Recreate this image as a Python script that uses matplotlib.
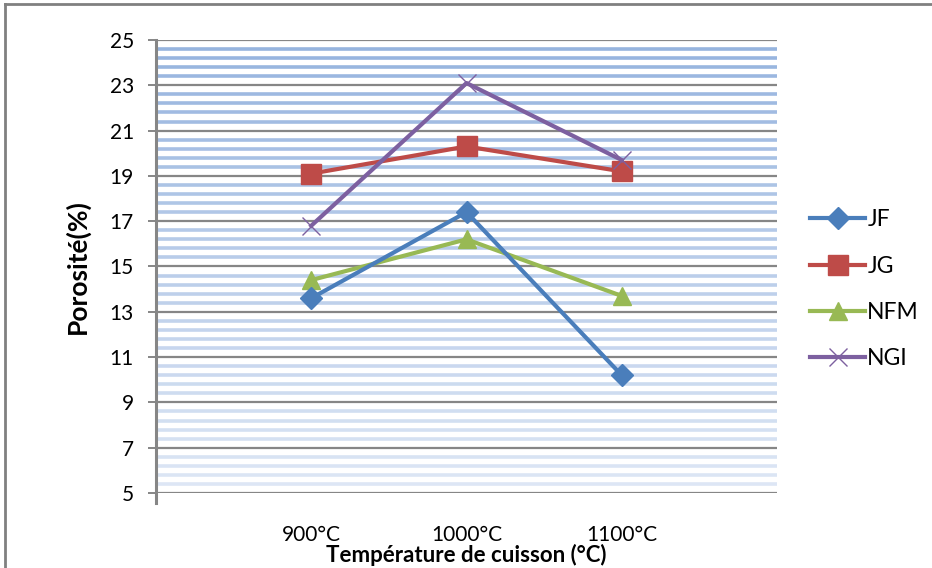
import numpy as np
import matplotlib
matplotlib.use("Agg")
import matplotlib.pyplot as plt
from matplotlib.lines import Line2D

plt.rcParams['font.family'] = ['Lato', 'DejaVu Sans']

# data
temps = ['900°C', '1000°C', '1100°C']
jf = [13.6, 17.4, 10.2]
jg = [19.1, 20.3, 19.2]
nfm = [14.4, 16.2, 13.7]
ngi = [16.8, 23.1, 19.7]
y_ticks = [5, 7, 9, 11, 13, 15, 17, 19, 21, 23, 25]

fig = plt.figure(figsize=(9.32, 5.68), dpi=100)
ax = fig.add_axes([156 / 932, 1 - 493 / 568, (777 - 156) / 932, (493 - 40) / 568])

ax.set_xlim(0, 4)
ax.set_ylim(5, 25)

# striped background: minor lines with a blue fade from top to bottom
top_c = np.array([149, 179, 222]) / 255
bot_c = np.array([222, 231, 245]) / 255
for yv in np.arange(5, 25, 0.4):
    if abs(yv - round(yv)) < 1e-6 and int(round(yv)) % 2 == 1:
        continue
    t = (yv - 5) / 20
    c = bot_c + (top_c - bot_c) * t
    ax.axhline(yv, color=c, lw=2.6, zorder=0)
for yv in y_ticks:
    ax.axhline(yv, color='#868686', lw=1.6, zorder=1)

x = np.arange(1, len(temps) + 1)
ax.plot(x, jf, color='#4A7EBB', lw=3, marker='D', ms=11, zorder=5, label='JF')
ax.plot(x, jg, color='#BE4B48', lw=3, marker='s', ms=14, zorder=4, label='JG')
ax.plot(x, nfm, color='#98B954', lw=3, marker='^', ms=13, zorder=3, label='NFM')
ax.plot(x, ngi, color='#7D60A0', lw=3, marker='x', ms=13, mew=1, zorder=6, label='NGI')

for s in ax.spines.values():
    s.set_visible(False)
ax.plot([0, 0], [4.55, 25], color='#868686', lw=2.2, clip_on=False, zorder=7)

ax.set_yticks(y_ticks)
ax.set_yticklabels([str(v) for v in y_ticks], fontsize=15)
ax.tick_params(axis='y', length=6, width=1.4, color='#868686', pad=10)
ax.set_xticks(x)
ax.set_xticklabels(temps, fontsize=15)
ax.tick_params(axis='x', length=0, pad=23)

ax.set_ylabel('Porosité(%)', fontsize=19, fontweight='bold', labelpad=14)
ax.set_xlabel('Température de cuisson (°C)', fontsize=16, fontweight='bold', labelpad=-1)

ax.legend(loc='center left', bbox_to_anchor=(1.02, 0.45), frameon=False,
          fontsize=16.5, handlelength=2.4, labelspacing=1.1, handletextpad=0.1)

# outer frame of the chart
fig.add_artist(Line2D([5 / 932, 5 / 932], [0, 1 - 4 / 568], color='#808080', lw=2))
fig.add_artist(Line2D([5 / 932, 1], [1 - 4 / 568, 1 - 4 / 568], color='#808080', lw=2))

fig.savefig('out.png', dpi=100)
